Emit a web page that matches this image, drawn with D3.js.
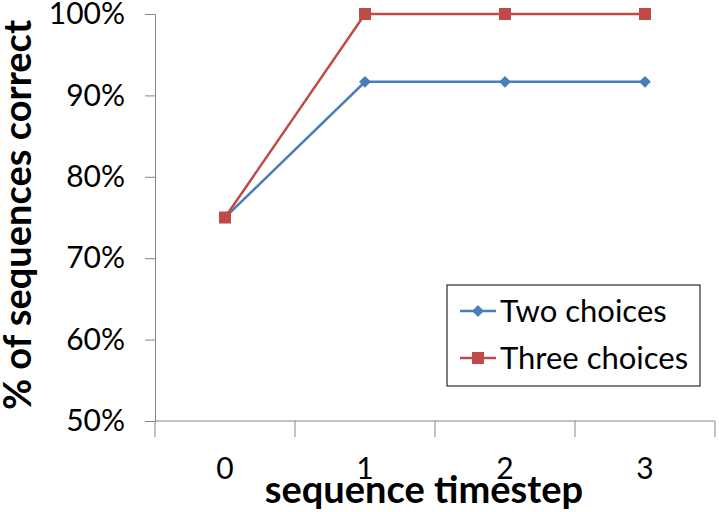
<!DOCTYPE html>
<html>
<head>
<meta charset="utf-8">
<script src="https://cdn.jsdelivr.net/npm/d3@7"></script>
<style>
  body { margin: 0; background: #fff; }
  svg text { font-family: Lato, "Open Sans", sans-serif; fill: #000; }
</style>
</head>
<body>
<div id="chart"></div>
<script>
var categories = ["0", "1", "2", "3"]
var yTicks = [0.5, 0.6, 0.7, 0.8, 0.9, 1.0]
var twoChoices = [0.75, 0.9167, 0.9167, 0.9167]
var threeChoices = [0.75, 1.0, 1.0, 1.0]
var seriesNames = ["Two choices", "Three choices"]
var seriesColors = ["#4a7ebb", "#be4b48"]

var width = 719, height = 512
var plotLeft = 155, plotRight = 715, plotTop = 14, plotBottom = 421

var svg = d3.select("#chart")
            .append("svg")
            .attr("width", width)
            .attr("height", height)

var xscale = d3.scaleBand().domain(categories).range([plotLeft, plotRight])
var yscale = d3.scaleLinear().domain([0.5, 1.0]).range([plotBottom, plotTop])

// x axis, tick marks sit between categories
var xg = svg.append("g").attr("transform", "translate(0," + plotBottom + ")")
xg.append("line").attr("x1", plotLeft).attr("x2", plotRight).attr("stroke", "#868686").attr("stroke-width", 1)
var edges = categories.map(function(c){ return xscale(c) }).concat([plotRight])
xg.selectAll(".xt").data(edges).enter().append("line")
  .attr("x1", d => d).attr("x2", d => d).attr("y1", 0).attr("y2", 16)
  .attr("stroke", "#868686")
xg.selectAll(".xl").data(categories).enter().append("text")
  .attr("x", d => xscale(d) + xscale.bandwidth() / 2)
  .attr("y", 58)
  .attr("text-anchor", "middle")
  .style("font-size", "30px")
  .text(d => d)

// y axis
var yaxis = d3.axisLeft(yscale).tickValues(yTicks).tickSize(10).tickPadding(20)
  .tickFormat(d3.format(".0%"))
var yg = svg.append("g").attr("transform", "translate(" + plotLeft + ",0)").call(yaxis)
yg.select(".domain").attr("stroke", "#868686")
yg.selectAll(".tick line").attr("stroke", "#868686")
yg.selectAll(".tick text").style("font-size", "30px").style("font-family", "Lato, 'Open Sans', sans-serif").attr("fill", "#000")

// axis titles
svg.append("text")
  .attr("x", 424).attr("y", 503)
  .attr("text-anchor", "middle")
  .style("font-size", "38px").style("font-weight", "bold")
  .text("sequence timestep")

svg.append("text")
  .attr("transform", "translate(31,215) rotate(-90)")
  .attr("text-anchor", "middle")
  .style("font-size", "38px").style("font-weight", "bold")
  .text("% of sequences correct")

var cx = d => xscale(d) + xscale.bandwidth() / 2
var line = d3.line().x((d, i) => cx(categories[i])).y(d => yscale(d))

// series
var series = [twoChoices, threeChoices]
series.forEach(function(vals, s){
  svg.append("path").datum(vals)
    .attr("d", line)
    .attr("fill", "none")
    .attr("stroke", seriesColors[s])
    .attr("stroke-width", 2.5)
})
svg.selectAll(".diamond").data(twoChoices).enter().append("path")
  .attr("d", d3.symbol().type(d3.symbolSquare).size(70))
  .attr("transform", (d, i) => "translate(" + cx(categories[i]) + "," + yscale(d) + ") rotate(45)")
  .attr("fill", seriesColors[0])
svg.selectAll(".square").data(threeChoices).enter().append("rect")
  .attr("x", (d, i) => cx(categories[i]) - 6)
  .attr("y", d => yscale(d) - 6)
  .attr("width", 12).attr("height", 12)
  .attr("fill", seriesColors[1])

// legend
var legend = svg.append("g")
legend.append("rect")
  .attr("x", 447).attr("y", 285).attr("width", 253).attr("height", 101)
  .attr("fill", "#fff").attr("stroke", "#000").attr("stroke-width", 1)
seriesNames.forEach(function(name, s){
  var ly = 311 + s * 47
  legend.append("line").attr("x1", 460).attr("x2", 496).attr("y1", ly).attr("y2", ly)
    .attr("stroke", seriesColors[s]).attr("stroke-width", 2.5)
  if (s === 0) {
    legend.append("path").attr("d", d3.symbol().type(d3.symbolSquare).size(70))
      .attr("transform", "translate(478," + ly + ") rotate(45)").attr("fill", seriesColors[s])
  } else {
    legend.append("rect").attr("x", 472).attr("y", ly - 6).attr("width", 12).attr("height", 12)
      .attr("fill", seriesColors[s])
  }
  legend.append("text").attr("x", 500).attr("y", ly + 11)
    .style("font-size", "31px").text(name)
})
</script>
</body>
</html>
